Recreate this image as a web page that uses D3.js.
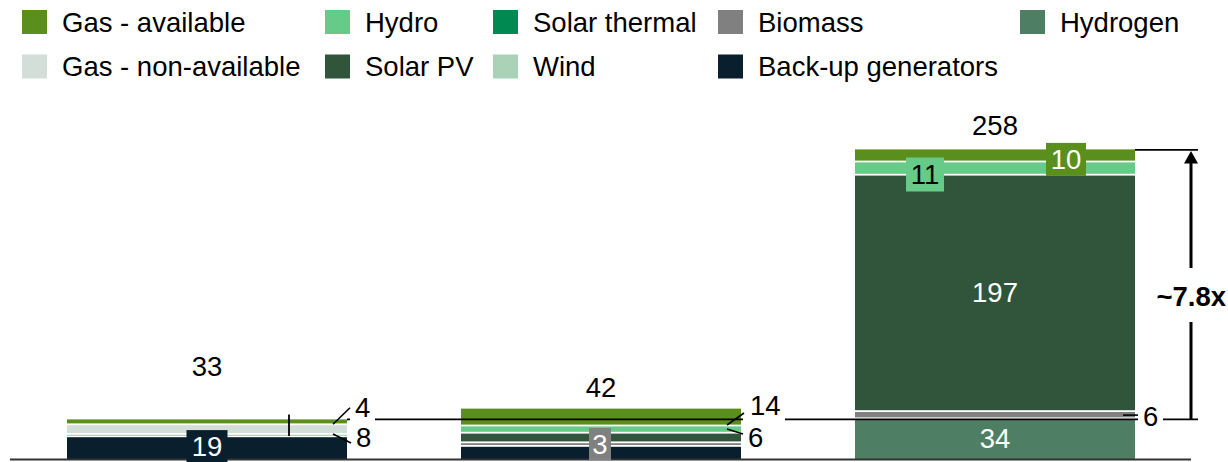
<!DOCTYPE html>
<html>
<head>
<meta charset="utf-8">
<script src="https://cdn.jsdelivr.net/npm/d3@7"></script>
<style>
  html, body { margin: 0; padding: 0; background: #fff; }
  svg { display: block; font-family: "Liberation Sans", Arial, sans-serif; }
</style>
</head>
<body>
<svg id="chart" width="1228" height="462"></svg>
<script>
// Installed capacity by technology for three system configurations (stacked bottom-up)
const scenarios = ["Current", "Near term", "Target"];
const technologies = [
  "Back-up generators", "Hydrogen", "Biomass", "Solar PV", "Solar thermal",
  "Wind", "Hydro", "Gas - non-available", "Gas - available"
];
const backupGenerators = [19, 11, 0];
const hydrogen        = [0, 0, 34];
const biomass         = [0, 3, 6];
const solarPV         = [0, 8, 197];
const solarThermal    = [0, 0, 0];
const wind            = [0, 0, 0];
const hydro           = [2, 6, 11];
const gasNonAvailable = [8, 0, 0];
const gasAvailable    = [4, 14, 10];

const colors = {
  "Gas - available": "#5a8f1e",
  "Gas - non-available": "#d3ded8",
  "Hydro": "#66cb88",
  "Solar PV": "#31553b",
  "Solar thermal": "#008a52",
  "Wind": "#a9d2b7",
  "Biomass": "#808080",
  "Back-up generators": "#0a1f2e",
  "Hydrogen": "#4e7f65"
};

// Legend rows as drawn (two rows, five columns)
const legendRow1 = ["Gas - available", "Hydro", "Solar thermal", "Biomass", "Hydrogen"];
const legendRow2 = ["Gas - non-available", "Solar PV", "Wind", "Back-up generators"];
const legendColX = [22, 325, 493, 718, 1020];

const seriesValues = {
  "Back-up generators": backupGenerators, "Hydrogen": hydrogen, "Biomass": biomass,
  "Solar PV": solarPV, "Solar thermal": solarThermal, "Wind": wind, "Hydro": hydro,
  "Gas - non-available": gasNonAvailable, "Gas - available": gasAvailable
};
const rows = scenarios.map((s, i) => {
  const r = { scenario: s };
  technologies.forEach(t => r[t] = seriesValues[t][i]);
  return r;
});
const totals = rows.map(r => d3.sum(technologies, t => r[t]));

const svg = d3.select("#chart");
const FONT = 27.5;

const x = d3.scaleBand().domain(scenarios).range([67, 1135]).paddingInner(0.2893).paddingOuter(0);
const y = d3.scaleLinear().domain([0, 258]).range([459, 149.4]);
const bw = x.bandwidth();

// ---- Legend ----
const legend = svg.append("g");
[legendRow1, legendRow2].forEach((row, ri) => {
  const cy = ri === 0 ? 22 : 66.5;
  row.forEach((name, ci) => {
    const g = legend.append("g");
    g.append("rect").attr("x", legendColX[ci]).attr("y", cy - 12).attr("width", 25).attr("height", 24)
      .attr("fill", colors[name]);
    g.append("text").attr("x", legendColX[ci] + 40).attr("y", cy).attr("dy", "0.35em")
      .attr("font-size", FONT).attr("fill", "#000").text(name);
  });
});

// ---- Stacked bars ----
const stack = d3.stack().keys(technologies)(rows);
const bars = svg.append("g");
stack.forEach(layer => {
  bars.selectAll(null).data(layer.filter(d => d[1] - d[0] > 0)).join("rect")
    .attr("x", d => x(d.data.scenario))
    .attr("width", bw)
    .attr("y", d => y(d[1]) + (d[1] === totals[scenarios.indexOf(d.data.scenario)] ? 0 : 1))
    .attr("height", d => Math.max(0.8, y(d[0]) - y(d[1]) - (d[1] === totals[scenarios.indexOf(d.data.scenario)] ? 0 : 1) - (d[0] === 0 ? 0 : 0.8)))
    .attr("fill", colors[layer.key]);
});

const cx = s => x(s) + bw / 2;
const segMid = (si, tech) => {
  const layer = stack.find(l => l.key === tech)[si];
  return y((layer[0] + layer[1]) / 2);
};

// ---- Baseline ----
svg.append("line").attr("x1", 10).attr("x2", 1191).attr("y1", y(0) + 0.5).attr("y2", y(0) + 0.5)
  .attr("stroke", "#333").attr("stroke-width", 2);

// ---- Reference line at the first total, carried across to the bracket ----
const refY = y(totals[0]);
svg.append("line").attr("x1", x(scenarios[0]) + bw).attr("x2", 1198).attr("y1", refY).attr("y2", refY)
  .attr("stroke", "#000").attr("stroke-width", 1.6);

// small marker inside the first bar
svg.append("line").attr("x1", 289).attr("x2", 289).attr("y1", 414.5).attr("y2", 436)
  .attr("stroke", "#000").attr("stroke-width", 1.8);

// ---- Total labels above each bar ----
const totalOffsets = [53, 21, 24];
svg.append("g").selectAll("text").data(scenarios).join("text")
  .attr("x", s => cx(s))
  .attr("y", (s, i) => y(totals[i]) - totalOffsets[i])
  .attr("dy", "0.35em").attr("text-anchor", "middle").attr("font-size", FONT).attr("fill", "#000")
  .text((s, i) => totals[i]);

// ---- In-bar plain labels ----
const plainLabels = [
  { si: 2, tech: "Solar PV" },
  { si: 2, tech: "Hydrogen" }
];
plainLabels.forEach(l => {
  svg.append("text").attr("x", cx(scenarios[l.si])).attr("y", segMid(l.si, l.tech)).attr("dy", "0.35em")
    .attr("text-anchor", "middle").attr("font-size", FONT).attr("fill", "#fff")
    .text(seriesValues[l.tech][l.si]);
});

// ---- Boxed labels (box filled with the series colour) ----
const boxLabels = [
  { si: 0, tech: "Back-up generators", dx: 0,   dy: -1.5, w: 41, h: 32, text: "#fff" },
  { si: 1, tech: "Biomass",            dx: -1,  dy: 0,    w: 22, h: 32, text: "#fff" },
  { si: 2, tech: "Hydro",              dx: -70, dy: 6.5,  w: 38, h: 34, text: "#000" },
  { si: 2, tech: "Gas - available",    dx: 71,  dy: 4,    w: 40, h: 33, text: "#fff" }
];
boxLabels.forEach(l => {
  const bx = cx(scenarios[l.si]) + l.dx, by = segMid(l.si, l.tech) + l.dy;
  svg.append("rect").attr("x", bx - l.w / 2).attr("y", by - l.h / 2).attr("width", l.w).attr("height", l.h)
    .attr("fill", colors[l.tech]);
  svg.append("text").attr("x", bx).attr("y", by).attr("dy", "0.35em").attr("text-anchor", "middle")
    .attr("font-size", FONT).attr("fill", l.text).text(seriesValues[l.tech][l.si]);
});

// ---- Callout labels to the right of bars, with leader lines ----
const callouts = [
  { si: 0, tech: "Gas - available",     from: [-14, 2.5],  to: [3, -14],  tx: 355, ty: 407,   bg: [350, 395, 25, 26] },
  { si: 0, tech: "Gas - non-available", from: [-14, 5],    to: [4, 14],   tx: 356, ty: 437.5, bg: null },
  { si: 1, tech: "Gas - available",     from: [-14, 8],    to: [3, -4],   tx: 750, ty: 405,   bg: [743, 392, 42, 29] },
  { si: 1, tech: "Hydro",               from: [-14, 0],    to: [2, 5],    tx: 748, ty: 437.5, bg: null },
  { si: 2, tech: "Biomass",             from: [-12, 0.5],  to: [3, 0.5],  tx: 1143, ty: 416.5, bg: [1138, 403, 25, 28] }
];
callouts.forEach(c => {
  const right = x(scenarios[c.si]) + bw;
  const my = segMid(c.si, c.tech);
  if (c.bg) svg.append("rect").attr("x", c.bg[0]).attr("y", c.bg[1]).attr("width", c.bg[2]).attr("height", c.bg[3]).attr("fill", "#fff");
  svg.append("line")
    .attr("x1", right + c.from[0]).attr("y1", my + c.from[1])
    .attr("x2", right + c.to[0]).attr("y2", my + c.to[1])
    .attr("stroke", "#000").attr("stroke-width", 1.6);
  svg.append("text").attr("x", c.tx).attr("y", c.ty).attr("dy", "0.35em")
    .attr("font-size", FONT).attr("fill", "#000").text(seriesValues[c.tech][c.si]);
});

// ---- Growth bracket ----
const topY = y(totals[2]);
const ax = 1191;
svg.append("line").attr("x1", x(scenarios[2]) + bw).attr("x2", 1198).attr("y1", topY + 0.5).attr("y2", topY + 0.5)
  .attr("stroke", "#000").attr("stroke-width", 1.6);
svg.append("line").attr("x1", ax).attr("x2", ax).attr("y1", refY).attr("y2", topY + 12)
  .attr("stroke", "#000").attr("stroke-width", 3);
svg.append("path")
  .attr("d", `M${ax},${topY + 1.5} L${ax - 7},${topY + 14} L${ax + 7},${topY + 14} Z`)
  .attr("fill", "#000");
// ratio label sits in a gap of the arrow shaft
svg.append("rect").attr("x", 1150).attr("y", 268).attr("width", 78).attr("height", 54).attr("fill", "#fff");
svg.append("text").attr("x", 1226).attr("y", 296).attr("dy", "0.35em").attr("text-anchor", "end")
  .attr("font-size", FONT).attr("font-weight", "bold").attr("fill", "#000")
  .text("~" + d3.format(".1f")(totals[2] / totals[0]) + "x");
</script>
</body>
</html>
